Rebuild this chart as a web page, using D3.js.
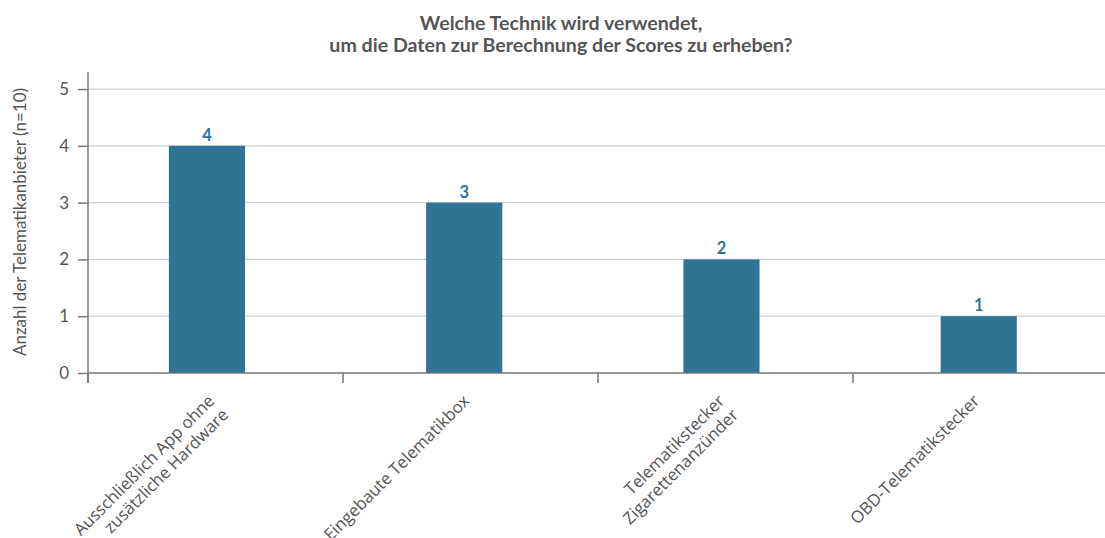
<!DOCTYPE html>
<html>
<head>
<meta charset="utf-8">
<script src="https://cdn.jsdelivr.net/npm/d3@7"></script>
<style>
  body { margin: 0; background: #fff; }
  svg { display: block; }
</style>
</head>
<body>
<svg id="chart" width="1105" height="538"></svg>
<script>
var categories = [
    ["Ausschließlich App ohne", "zusätzliche Hardware"],
    ["Eingebaute Telematikbox"],
    ["Telematikstecker", "Zigarettenanzünder"],
    ["OBD-Telematikstecker"]
];
var values = [4, 3, 2, 1];
var y_ticks = [0, 1, 2, 3, 4, 5];
var title_lines = ["Welche Technik wird verwendet,", "um die Daten zur Berechnung der Scores zu erheben?"];
var y_title = "Anzahl der Telematikanbieter (n=10)";

var text_color = "#555";
var axis_color = "#777";
var bar_color = "#2f7494";

window.onload = function()
{
    var svg = d3.select("#chart");
    var keys = categories.map(function(c) { return c.join(" "); });

    var left = 88, right = 1108, bottom = 373, top = 72;

    // tick bands (ticks sit on the band edges)
    var x_grid = d3.scaleBand().domain(keys).range([left, right]);
    // bars
    var x = d3.scaleBand().domain(keys).range([left, right]).
        paddingInner(0.704).paddingOuter(0.3345).align(0.47);
    var y = d3.scaleLinear().domain([0, 5.3]).range([bottom, top]);

    // grid lines
    svg.append("g").selectAll("line").data(y_ticks.slice(1)).enter().append("line").
        attr("x1", left).attr("x2", right).
        attr("y1", function(d) { return y(d); }).
        attr("y2", function(d) { return y(d); }).
        attr("stroke", "#cfcfcf").attr("stroke-width", 1.2);

    // bars
    svg.append("g").selectAll("rect").data(values).enter().append("rect").
        attr("x", function(d, i) { return x(keys[i]); }).
        attr("width", x.bandwidth()).
        attr("y", function(d) { return y(d); }).
        attr("height", function(d) { return y(0) - y(d); }).
        attr("fill", bar_color);

    // value labels
    svg.append("g").selectAll("text").data(values).enter().append("text").
        attr("x", function(d, i) { return x(keys[i]) + x.bandwidth() / 2; }).
        attr("y", function(d) { return y(d) - 5; }).
        attr("text-anchor", "middle").
        style("font-family", "Lato, sans-serif").
        style("font-weight", "bold").
        style("font-size", "16.5px").
        attr("fill", bar_color).
        text(function(d) { return d; });

    // y axis
    var y_axis = svg.append("g").attr("transform", "translate(" + left + ",0)").
        call(d3.axisLeft(y).tickValues(y_ticks).tickSize(10).tickPadding(9).tickFormat(d3.format("d")));
    y_axis.select(".domain").remove();
    y_axis.selectAll(".tick line").attr("stroke", axis_color).attr("stroke-width", 1.5);
    y_axis.selectAll(".tick text").
        style("font-family", "Lato, sans-serif").
        style("font-size", "17px").
        attr("fill", text_color);
    svg.append("line").
        attr("x1", left).attr("x2", left).
        attr("y1", top).attr("y2", bottom + 10).
        attr("stroke", axis_color).attr("stroke-width", 1.5);

    // x axis
    svg.append("line").
        attr("x1", left).attr("x2", right).
        attr("y1", bottom).attr("y2", bottom).
        attr("stroke", axis_color).attr("stroke-width", 1.5);
    svg.append("g").selectAll("line").data(keys).enter().append("line").
        attr("x1", function(d) { return x_grid(d); }).
        attr("x2", function(d) { return x_grid(d); }).
        attr("y1", bottom).attr("y2", bottom + 10).
        attr("stroke", axis_color).attr("stroke-width", 1.5);

    // x labels, rotated
    var labels = svg.append("g").selectAll("text").data(categories).enter().append("text").
        attr("transform", function(d, i)
        {
            return "translate(" + (x_grid(keys[i]) + x_grid.bandwidth() / 2) + "," + (bottom + 29) + ") rotate(-45)";
        }).
        attr("text-anchor", "end").
        style("font-family", "'Open Sans', sans-serif").
        style("font-size", "16.8px").
        attr("fill", text_color);
    labels.selectAll("tspan").data(function(d) { return d; }).enter().append("tspan").
        attr("x", 0).
        attr("dy", function(d, i) { return i == 0 ? 0 : "1.17em"; }).
        text(function(d) { return d; });

    // y title
    svg.append("text").
        attr("transform", "translate(26,222) rotate(-90)").
        attr("text-anchor", "middle").
        style("font-family", "Lato, sans-serif").
        style("font-size", "17px").
        attr("fill", text_color).
        text(y_title);

    // title
    svg.append("text").
        attr("x", 561).attr("y", 30).
        attr("text-anchor", "middle").
        style("font-family", "Lato, sans-serif").
        style("font-weight", "bold").
        style("font-size", "19.6px").
        attr("fill", text_color).
        selectAll("tspan").data(title_lines).enter().append("tspan").
        attr("x", 561).
        attr("dy", function(d, i) { return i == 0 ? 0 : 22; }).
        text(function(d) { return d; });
}
</script>
</body>
</html>
